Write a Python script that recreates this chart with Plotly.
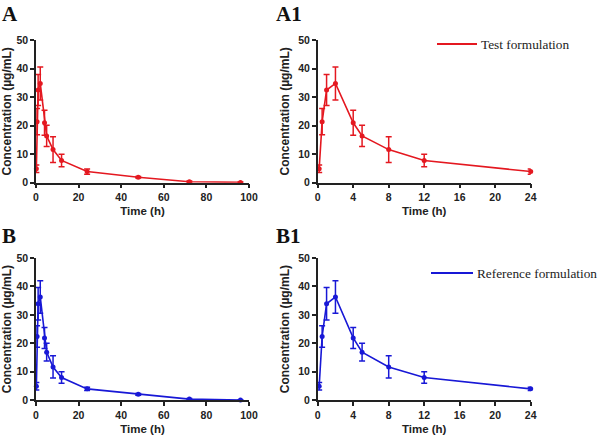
import plotly.graph_objects as go
from plotly.subplots import make_subplots

# sampling times (h) and mean +/- SD concentrations (ug/mL)
time_h = [0.167, 0.5, 1, 2, 4, 5, 8, 12, 24, 48, 72, 96]
test_mean = [4.9, 21.4, 32.5, 34.8, 21.0, 16.4, 11.6, 7.8, 3.9, 1.9, 0.35, 0.1]
test_sd = [1.3, 4.6, 5.4, 5.8, 4.4, 3.7, 4.5, 2.2, 0.9, 0.3, 0.2, 0.1]
ref_mean = [4.9, 22.4, 33.9, 36.3, 21.9, 16.9, 11.7, 8.0, 4.0, 2.1, 0.4, 0.1]
ref_sd = [1.3, 3.8, 5.7, 5.7, 3.7, 3.1, 3.9, 2.0, 0.6, 0.3, 0.2, 0.1]

panel_labels = ["A", "A1", "B", "B1"]
legend_names = ["Test formulation", "Reference formulation"]

RED = "rgb(228,24,32)"
BLUE = "rgb(24,24,214)"
SANS = "Liberation Sans, Arial, sans-serif"
SERIF = "Liberation Serif, Times New Roman, serif"

fig = make_subplots(rows=2, cols=2)

short = [i for i, t in enumerate(time_h) if t <= 24]

series = [(test_mean, test_sd, RED, 1), (ref_mean, ref_sd, BLUE, 2)]
for mean, sd, color, row in series:
    for col in (1, 2):
        idx = range(len(time_h)) if col == 1 else short
        fig.add_trace(go.Scatter(
            x=[time_h[i] for i in idx],
            y=[mean[i] for i in idx],
            mode="lines+markers",
            line=dict(color=color, width=1.6),
            marker=dict(color=color, size=5),
            error_y=dict(type="data", array=[sd[i] for i in idx], color=color,
                         thickness=1.5, width=3),
            cliponaxis=False,
            showlegend=False,
        ), row=row, col=col)

axis_common = dict(
    showline=True, linecolor="#222", linewidth=1.5,
    ticks="outside", ticklen=4, tickwidth=1.5, tickcolor="#222",
    showgrid=False, zeroline=False, automargin=False,
    tickfont=dict(family=SANS, size=10.5, color="#222", weight="bold"),
)
xtitle_font = dict(family=SANS, size=11.5, color="#222", weight="bold")
ytitle_font = dict(family=SANS, size=12, color="#222", weight="bold")

xdom = [[0.06, 0.415], [0.5295, 0.8845]]
ydom = [[0.581, 0.908], [0.082, 0.4083]]

for row in (1, 2):
    for col in (1, 2):
        n = (row - 1) * 2 + col
        xs = "xaxis" if n == 1 else "xaxis%d" % n
        ys = "yaxis" if n == 1 else "yaxis%d" % n
        if col == 1:
            xr, dt = [0, 100], 20
        else:
            xr, dt = [0, 24], 4
        fig.update_layout({
            xs: dict(axis_common, domain=xdom[col - 1], range=xr, dtick=dt,
                     tick0=0, title=dict(text="Time (h)", font=xtitle_font, standoff=5)),
            ys: dict(axis_common, domain=ydom[row - 1], range=[0, 50], dtick=10,
                     title=dict(text="Concentration (\u00b5g/mL)", font=ytitle_font,
                                standoff=6)),
        })

label_pos = [(0.0, 1.0), (0.456, 1.0), (0.0, 0.49), (0.456, 0.49)]
for text, (px, py) in zip(panel_labels, label_pos):
    fig.add_annotation(text=text, x=px, y=py, xref="paper", yref="paper",
                       xanchor="left", yanchor="top", showarrow=False,
                       font=dict(family=SERIF, size=21, color="#111", weight="bold"))

# legend key: a line sample followed by the series name
legend_pos = [(437, 477, 44), (431, 473, 273)]
for name, color, (x0, x1, yy) in zip(legend_names, [RED, BLUE], legend_pos):
    fig.add_shape(type="line", xref="paper", yref="paper",
                  x0=x0 / 600, x1=x1 / 600, y0=1 - yy / 436, y1=1 - yy / 436,
                  line=dict(color=color, width=2))
    fig.add_annotation(text=name, x=(x1 + 2) / 600, y=1 - yy / 436,
                       xref="paper", yref="paper", xanchor="left", yanchor="middle",
                       showarrow=False,
                       font=dict(family=SERIF, size=13.3, color="#222"))

fig.update_layout(
    width=600, height=436,
    margin=dict(l=0, r=0, t=0, b=0),
    plot_bgcolor="white", paper_bgcolor="white",
    showlegend=False,
)

fig.write_html("out.html", config={"displayModeBar": False},
               post_script="document.body.style.margin='0';")
